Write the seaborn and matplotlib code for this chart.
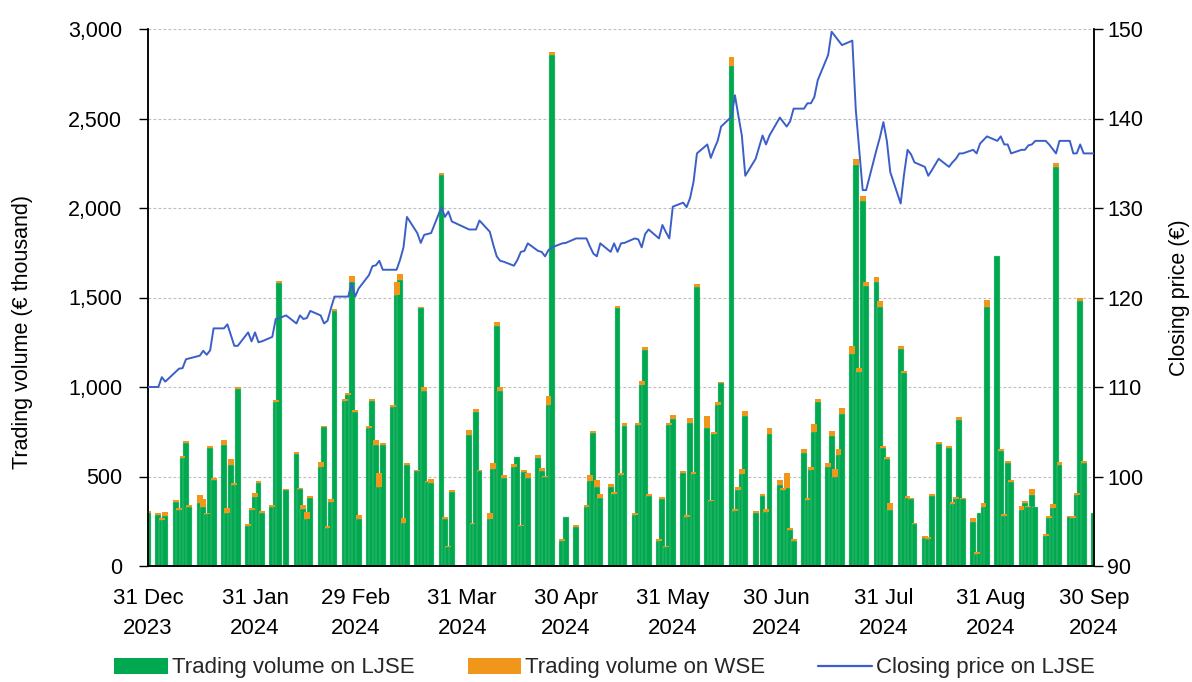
import numpy as np
import pandas as pd
import matplotlib
matplotlib.use("Agg")
import matplotlib.pyplot as plt
import matplotlib.ticker as mticker
from matplotlib.patches import Patch
from matplotlib.lines import Line2D
import seaborn as sns

# ---------------- data ----------------
first_day = ["2023-12-31"]
holidays = ["2024-01-01", "2024-01-02", "2024-02-08", "2024-03-29", "2024-04-01",
            "2024-05-01", "2024-05-02", "2024-06-25", "2024-08-15"]

ljse_dec = [294]
ljse_jan = [286, 256, 281, 357, 314, 602, 688, 331, 350, 331, 288, 658, 478, 676, 294, 563, 452, 991, 225, 312, 385]
ljse_feb = [465, 296, 327, 915, 1582, 422, 627, 428, 317, 260, 381, 551, 774, 213, 356, 1426, 923, 955, 1588, 860]
ljse_mar = [260, 772, 921, 676, 440, 677, 891, 1514, 1597, 242, 567, 530, 1439, 980, 467, 462, 2184, 261, 104, 415]
ljse_apr = [732, 234, 858, 530, 261, 541, 1341, 980, 492, 552, 611, 221, 526, 490, 603, 532, 495, 898, 2855, 141, 276]
ljse_may = [219, 331, 477, 744, 439, 378, 444, 405, 1442, 509, 782, 284, 787, 1013, 1207, 393, 137, 375, 105, 785, 822]
ljse_jun = [521, 275, 801, 513, 1560, 769, 362, 740, 897, 1020, 2793, 305, 422, 514, 838, 297, 392, 300, 735]
ljse_jul = [452, 425, 434, 202, 139, 630, 368, 536, 750, 915, 552, 728, 495, 622, 850, 1183, 2241, 1086, 2039, 1563, 1587, 1448, 659]
ljse_aug = [599, 313, 1211, 1079, 381, 372, 232, 156, 150, 390, 681, 660, 345, 375, 818, 372, 248, 65, 298, 332, 1445]
ljse_sep = [1734, 644, 281, 575, 467, 313, 351, 327, 396, 331, 169, 267, 323, 2231, 564, 271, 267, 398, 1483, 575, 294]

wse_dec = [15]
wse_jan = [8, 10, 19, 12, 10, 12, 12, 10, 45, 45, 10, 12, 12, 28, 30, 35, 10, 10, 10, 12, 25]
wse_feb = [12, 10, 12, 10, 12, 10, 10, 8, 22, 43, 10, 30, 10, 10, 18, 10, 10, 10, 32, 10]
wse_mar = [25, 10, 10, 28, 78, 10, 10, 71, 32, 28, 10, 8, 10, 22, 8, 22, 10, 15, 8, 10]
wse_apr = [28, 8, 17, 8, 37, 33, 22, 18, 18, 18, 0, 8, 10, 28, 15, 15, 8, 52, 15, 10, 0]
wse_may = [10, 10, 30, 10, 41, 24, 12, 10, 12, 12, 15, 12, 10, 19, 15, 8, 12, 10, 5, 12, 22]
wse_jun = [12, 10, 24, 10, 15, 69, 8, 10, 17, 10, 50, 12, 18, 30, 30, 12, 10, 18, 34]
wse_jul = [28, 12, 87, 10, 10, 24, 10, 15, 43, 18, 22, 26, 45, 30, 35, 47, 34, 19, 26, 22, 26, 32, 10]
wse_aug = [12, 37, 20, 10, 10, 10, 10, 12, 10, 10, 10, 10, 15, 10, 12, 10, 18, 15, 0, 18, 41]
wse_sep = [0, 10, 10, 12, 12, 22, 10, 10, 32, 0, 10, 12, 22, 20, 15, 10, 12, 10, 12, 12, 0]

price_dec = [110.0]
price_jan = [110.0, 111.1, 110.6, 111.7, 112.05, 112.1, 113.1, 113.2, 113.5, 114.05, 113.6, 114.1, 116.55,
             116.55, 117.0, 115.8, 114.6, 114.6, 116.1, 115.1, 116.1]
price_feb = [115.0, 115.1, 115.6, 117.6, 117.7, 118.0, 117.1, 118.0, 117.6, 117.7, 118.5,
             118.0, 117.1, 117.4, 118.8, 120.1, 120.1, 120.1, 121.6, 120.1]
price_mar = [121.0, 122.5, 123.5, 123.6, 124.1, 123.1, 123.1, 123.1, 124.2, 125.6, 129.0,
             127.2, 126.1, 127.0, 127.1, 127.2, 130.1, 129.0, 129.6, 128.5]
price_apr = [127.6, 127.6, 127.6, 128.6, 127.35, 125.9, 124.6, 124.1, 124.0, 123.55, 124.2, 125.1, 125.2, 126.05,
             125.2, 125.1, 124.6, 125.3, 125.6, 126.05, 126.1]
price_may = [126.6, 126.6, 125.7, 124.9, 124.6, 126.05, 125.1, 126.05, 125.1, 126.05, 126.1,
             126.6, 126.5, 125.6, 127.1, 127.6, 126.6, 128.1, 127.3, 126.6, 130.15]
price_jun = [130.6, 130.1, 131.1, 132.9, 136.1, 137.1, 135.6, 136.6, 137.5, 139.1,
             140.2, 142.6, 140.3, 138.1, 133.6, 135.5, 138.1, 137.1, 138.1]
price_jul = [140.1, 139.6, 139.1, 139.7, 141.1, 141.1, 141.7, 141.7, 142.4, 144.3,
             147.1, 149.7, 149.2, 148.7, 148.2, 148.7, 141.0, 136.5, 132.0, 132.0, 136.5, 137.9, 139.6]
price_aug = [137.5, 134.0, 130.5, 133.8, 136.5, 136.0, 135.1, 134.6, 133.6, 134.2, 135.5,
             134.6, 135.1, 135.5, 136.1, 136.1, 136.5, 136.1, 137.2, 137.6, 138.0]
price_sep = [137.5, 138.0, 137.1, 137.1, 136.1, 136.5, 136.5, 137.0, 137.1, 137.5,
             137.5, 137.1, 136.6, 136.1, 137.5, 137.5, 136.1, 136.1, 137.1, 136.1, 136.1]

tick_dates = ["2023-12-31", "2024-01-31", "2024-02-29", "2024-03-31", "2024-04-30",
              "2024-05-31", "2024-06-30", "2024-07-31", "2024-08-31", "2024-09-30"]
tick_labels = ["31 Dec\n2023", "31 Jan\n2024", "29 Feb\n2024", "31 Mar\n2024", "30 Apr\n2024",
               "31 May\n2024", "30 Jun\n2024", "31 Jul\n2024", "31 Aug\n2024", "30 Sep\n2024"]
series_labels = ["Trading volume on LJSE", "Trading volume on WSE", "Closing price on LJSE"]

# ---------------- assemble ----------------
dates = pd.DatetimeIndex(first_day).append(
    pd.bdate_range("2024-01-01", "2024-09-30").difference(pd.DatetimeIndex(holidays)))
ljse = np.array(ljse_dec + ljse_jan + ljse_feb + ljse_mar + ljse_apr + ljse_may + ljse_jun + ljse_jul + ljse_aug + ljse_sep, float)
wse = np.array(wse_dec + wse_jan + wse_feb + wse_mar + wse_apr + wse_may + wse_jun + wse_jul + wse_aug + wse_sep, float)
price = np.array(price_dec + price_jan + price_feb + price_mar + price_apr + price_may + price_jun + price_jul + price_aug + price_sep, float)
df = pd.DataFrame({"date": dates, "ljse": ljse, "wse": wse, "price": price})

GREEN = "#00A84F"
ORANGE = "#F0961B"
BLUE = "#3B5FC9"

sns.set_theme(style="white")
plt.rcParams["font.family"] = ["Liberation Sans", "DejaVu Sans"]
plt.rcParams["axes.unicode_minus"] = False

fig = plt.figure(figsize=(11.92, 6.82), dpi=100)
ax = fig.add_axes([148 / 1192, 1 - 566 / 682, (1094 - 148) / 1192, (566 - 29) / 682])
ax.set_axisbelow(True)
ax.yaxis.grid(True, color="#bdbdbd", linestyle=(0, (2.5, 2)), linewidth=0.8)
ax.xaxis.grid(False)

ax.bar(df["date"], df["ljse"], width=1.7, color=GREEN, edgecolor="#9edcb6", linewidth=0.25, zorder=2)
ax.bar(df["date"], df["wse"], width=1.7, bottom=df["ljse"], color=ORANGE, edgecolor="none", zorder=3)

ax2 = ax.twinx()
sns.lineplot(data=df, x="date", y="price", ax=ax2, color=BLUE, linewidth=1.4, zorder=5)

ax.set_xlim(pd.Timestamp("2023-12-31"), pd.Timestamp("2024-09-30"))
ax.set_ylim(0, 3000)
ax2.set_ylim(90, 150)
ax.set_yticks(np.arange(0, 3001, 500))
ax2.set_yticks(np.arange(90, 151, 10))
ax.yaxis.set_major_formatter(mticker.FuncFormatter(lambda v, p: f"{int(v):,}"))
ax.set_xticks(pd.DatetimeIndex(tick_dates))
ax.set_xticklabels(tick_labels, linespacing=1.55)

fs = 15.5
ax.tick_params(axis="x", length=0, pad=16, labelsize=16, colors="black")
ax.tick_params(axis="y", direction="out", length=6.5, width=1, labelsize=fs, colors="black", pad=12)
ax2.tick_params(axis="y", direction="out", length=6.5, width=1, labelsize=fs, colors="black", pad=3)
ax2.set_xlabel("")

for a in (ax, ax2):
    for s in ("left", "right", "bottom"):
        a.spines[s].set_color("black")
        a.spines[s].set_linewidth(1.1)
    a.spines["top"].set_visible(False)

ax.set_ylabel("Trading volume (€ thousand)", fontsize=15.5, color="black")
ax.yaxis.set_label_coords(-0.122, 0.436)
ax2.set_ylabel("Closing price (€)", fontsize=15.5, color="black")
ax2.yaxis.set_label_coords(1.079, 0.5)
ax.set_xlabel("")

handles = [Patch(facecolor=GREEN, edgecolor="none"),
           Patch(facecolor=ORANGE, edgecolor="none"),
           Line2D([0], [0], color=BLUE, linewidth=1.6)]
fig.legend(handles, series_labels, loc="center", bbox_to_anchor=(0.507, 1 - 668 / 682), ncol=3,
           frameon=False, fontsize=16, handlelength=2.4, handleheight=0.75,
           handletextpad=0.18, columnspacing=2.4)

fig.savefig("out.png", dpi=100)
